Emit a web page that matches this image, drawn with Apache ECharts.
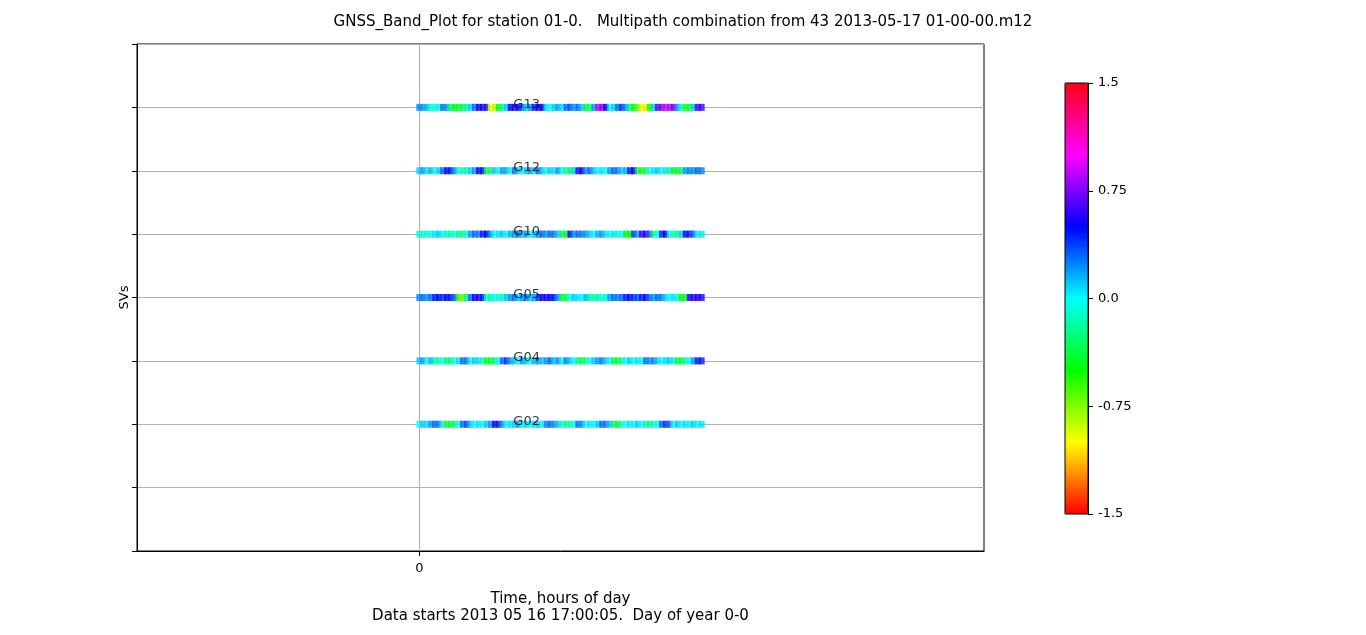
<!DOCTYPE html>
<html>
<head>
<meta charset="utf-8">
<script src="https://cdn.jsdelivr.net/npm/echarts@6/dist/echarts.min.js"></script>
<style>
html,body{margin:0;padding:0;background:#fff;}
#chart{width:1366px;height:635px;}
</style>
</head>
<body>
<div id="chart"></div>
<script>
// ---- data ----
const svNames = ['G02', 'G04', 'G05', 'G10', 'G12', 'G13'];
const svRows = [2, 3, 4, 5, 6, 7];
const labelX = 0.333;
const sampleCount = 72;
const times = Array.from({length: sampleCount}, (_, i) => i / (sampleCount - 1));

const mpG02 = [0.0,0.1,0.05,0.2, 0.3,0.25, -0.1,-0.35,-0.4,-0.3,0.0, 0.3,0.35,0.1, 0.0,0.05,0.0,0.1,0.2, 0.5,0.45,0.2, 0.0,0.05,
  0.1,0.2,0.0,0.1,0.0,0.05,0.1,0.0, 0.25,0.3,0.2,0.1, -0.1,-0.2,-0.15,0.0, 0.3,0.2, 0.0,0.05,0.0,0.1, 0.3,0.25,0.1,
  -0.3,-0.35,-0.1, 0.0,0.05,0.0,0.1,0.0, -0.15,-0.2,-0.1,0.0, 0.3,0.4,0.3, 0.0,0.1,0.0,0.05,0.0,0.1,0.0,0.05];
const mpG04 = [0.1,0.2,0.0,0.15, -0.15,-0.1,0.0, -0.3,-0.25,0.0, 0.05,0.3,0.25, 0.0,0.1,0.05,-0.1, -0.4,-0.45,-0.3,0.0,
  0.3,0.4,0.2, 0.1,0.0,0.2,0.1,0.0,0.15,0.2,0.1, 0.2,0.3,0.1,0.2,0.0,0.25,0.1,0.0, -0.3,-0.35,-0.2,0.0,
  0.1,0.2,0.25,0.1,0.0, -0.4,-0.35,-0.2, 0.0,0.1,0.0,0.05,0.0, 0.3,0.2,0.25,0.1, 0.0,0.05,0.1,-0.1,
  -0.4,-0.35,-0.2, 0.0,0.2, 0.45,0.45];
const mpG05 = [0.25,0.3,0.2,0.3, 0.45,0.5,0.4,0.5,0.45,0.3, -0.6,-0.7,-0.3, 0.3,0.5,0.55,0.45,
  -0.1,-0.2,0.0,-0.1,-0.15,0.1, 0.2,0.3,0.1,0.2,0.3,0.1,0.2,0.4,0.5, 0.55,0.5,0.45,0.2, -0.4,-0.35,
  0.0,0.1,0.05,0.0,0.15, -0.2,-0.1,-0.25,0.0,-0.1, 0.2,0.3,0.25,0.3, 0.45,0.5,0.4,0.35,0.45,0.5,0.3,
  0.2,0.3,0.25,0.1, 0.0,0.05,-0.1, -0.5,-0.4, 0.55,0.6,0.55,0.55];
const mpG10 = [-0.1,-0.05,-0.1,0.0, 0.05,0.1,0.0,-0.1, -0.2,0.0, -0.25,-0.2,-0.1, 0.2,0.3,0.25, 0.45,0.5,0.2,
  0.0,0.05,0.1,0.0,0.15, 0.2,0.3,0.1,0.2,0.0,0.1,0.25,0.3, 0.2,0.3,0.25,0.1, -0.35,-0.4, 0.5,0.2,
  0.3,0.25,0.2, 0.1,0.0,0.15,0.2,0.05, 0.0,0.05,-0.1,0.0, -0.5,-0.45, 0.4,0.2, 0.6,0.55,0.3,
  -0.3,0.0, 0.45,0.5, 0.0,-0.15,-0.2,0.1, 0.5,0.45,0.3, 0.0,0.05];
const mpG12 = [0.1,0.2,0.05,0.15,0.0, 0.1,0.3, 0.5,0.45,0.2, 0.0,-0.15,-0.1, 0.1,0.2, 0.5,0.45,-0.35,-0.3,
  0.1,0.0,0.2, 0.15,0.0,0.3,0.1, 0.0,0.1,0.2,0.05,0.3,0.1, 0.0,0.1,0.05,0.2,0.0, -0.2,-0.3,0.1,
  0.55,0.5,0.2, 0.3,0.1,0.0, 0.05,0.0,0.2, 0.3,0.25,0.1,0.15, 0.45,0.5,-0.35, -0.55,-0.3,
  0.0,0.05,0.1,0.0,0.05, -0.2,-0.45,-0.4,-0.3, 0.2,0.25,0.2,0.3,0.25];
const mpG13 = [0.25,0.2,0.15, -0.1,0.0,-0.15, 0.3,0.2,-0.3, -0.45,-0.4,-0.35,-0.2, 0.1,0.3, 0.5,0.55,0.45,
  -1.0,-0.85, -0.5,-0.2, 0.1,0.5, 0.55,0.5,0.3,0.1,0.2,0.45,0.55,0.5, 0.05,0.0,0.1,0.2,0.05,
  0.3,0.35,0.2,0.3,0.1, -0.4,-0.3,0.2, 0.85,0.75,0.5, 0.0,0.1,0.3, 0.4,0.2,-0.3, -0.5,-0.7,
  -1.0,-0.9, -0.5,0.1, 0.65,0.75,0.9,0.85,0.7, 0.2,-0.1, -0.55,-0.4,0.1, 0.6,0.6];
const svValues = [mpG02, mpG04, mpG05, mpG10, mpG12, mpG13];

const colorTicks = [-1.5, -0.75, 0, 0.75, 1.5];
const hsvColors = ['#ff0000', '#ffff00', '#00ff00', '#00ffff', '#0000ff', '#ff00ff', '#ff0018'];

// ---- build ----
const bandData = [];
svValues.forEach((vals, k) => {
  vals.forEach((v, i) => bandData.push([times[i], svRows[k], v]));
});
const labelData = svNames.map((n, k) => ({value: [labelX, svRows[k]], name: n}));

const FONT = 'DejaVu Sans';
const chart = echarts.init(document.getElementById('chart'), null, {renderer: 'canvas'});
chart.setOption({
  animation: false,
  backgroundColor: '#fff',
  textStyle: {fontFamily: FONT, color: '#000'},
  title: {
    text: 'GNSS_Band_Plot for station 01-0.   Multipath combination from 43 2013-05-17 01-00-00.m12',
    left: 'center', top: 10,
    textStyle: {fontFamily: FONT, fontSize: 15, fontWeight: 'normal', color: '#000'}
  },
  grid: [
    {left: 137, top: 44, width: 847, height: 507, show: true, borderColor: '#000', borderWidth: 1, backgroundColor: 'transparent'},
    {left: 1065, top: 83, width: 23, height: 431, show: true, borderColor: '#000', borderWidth: 1, backgroundColor: 'transparent', z: 10}
  ],
  xAxis: [
    {
      type: 'value', gridIndex: 0, min: -1, max: 2, interval: 1,
      name: 'Time, hours of day\nData starts 2013 05 16 17:00:05.  Day of year 0-0',
      nameLocation: 'middle', nameGap: 40,
      nameTextStyle: {fontFamily: FONT, fontSize: 15, color: '#000', lineHeight: 17},
      axisLine: {show: true, onZero: false, lineStyle: {color: '#000'}},
      axisTick: {show: true, length: 5, lineStyle: {color: '#000'}, customValues: [0]},
      axisLabel: {show: true, fontFamily: FONT, fontSize: 13, color: '#000', margin: 11, customValues: [0],
        formatter: v => (v === 0 ? '0' : '')},
      splitLine: {show: false}
    },
    {type: 'value', gridIndex: 1, min: 0, max: 1, show: false}
  ],
  yAxis: [
    {
      type: 'value', gridIndex: 0, min: 0, max: 8, interval: 1,
      name: 'SVs', nameLocation: 'middle', nameGap: 6,
      nameTextStyle: {fontFamily: FONT, fontSize: 13, color: '#000'},
      axisLine: {show: true, onZero: false, lineStyle: {color: '#000'}},
      axisTick: {show: true, length: 5, lineStyle: {color: '#000'}},
      axisLabel: {show: false},
      splitLine: {show: true, lineStyle: {color: '#b0b0b0', width: 1}}
    },
    {
      type: 'value', gridIndex: 1, position: 'right', min: -1.5, max: 1.5, interval: 0.75,
      axisLine: {show: true, onZero: false, lineStyle: {color: '#000'}},
      axisTick: {show: true, length: 5, lineStyle: {color: '#000'}},
      axisLabel: {show: true, fontFamily: FONT, fontSize: 13, color: '#000', margin: 10,
        formatter: v => (v === 0 ? '0.0' : String(v))},
      splitLine: {show: false}
    }
  ],
  visualMap: {
    type: 'continuous', min: colorTicks[0], max: colorTicks[colorTicks.length - 1],
    seriesIndex: 0, dimension: 2, calculable: false, hoverLink: false,
    left: 1065, top: 83, itemWidth: 23, itemHeight: 431, padding: 0,
    inRange: {color: hsvColors}, text: null, show: true
  },
  series: [
    {
      type: 'scatter', xAxisIndex: 0, yAxisIndex: 0, symbol: 'rect', symbolSize: [6, 7],
      data: bandData, z: 2,
      markLine: {
        silent: true, symbol: 'none', label: {show: false},
        lineStyle: {color: '#b0b0b0', width: 1, type: 'solid'},
        data: [{xAxis: 0}], z: 1
      }
    },
    {
      type: 'scatter', xAxisIndex: 0, yAxisIndex: 0, symbolSize: 0, data: labelData, z: 5,
      label: {show: true, formatter: p => p.name, position: [0, 0], align: 'left', verticalAlign: 'middle',
        offset: [0, -3], fontFamily: FONT, fontSize: 13, color: '#000'}
    },
    {type: 'scatter', xAxisIndex: 1, yAxisIndex: 1, data: []}
  ]
});
</script>
</body>
</html>
